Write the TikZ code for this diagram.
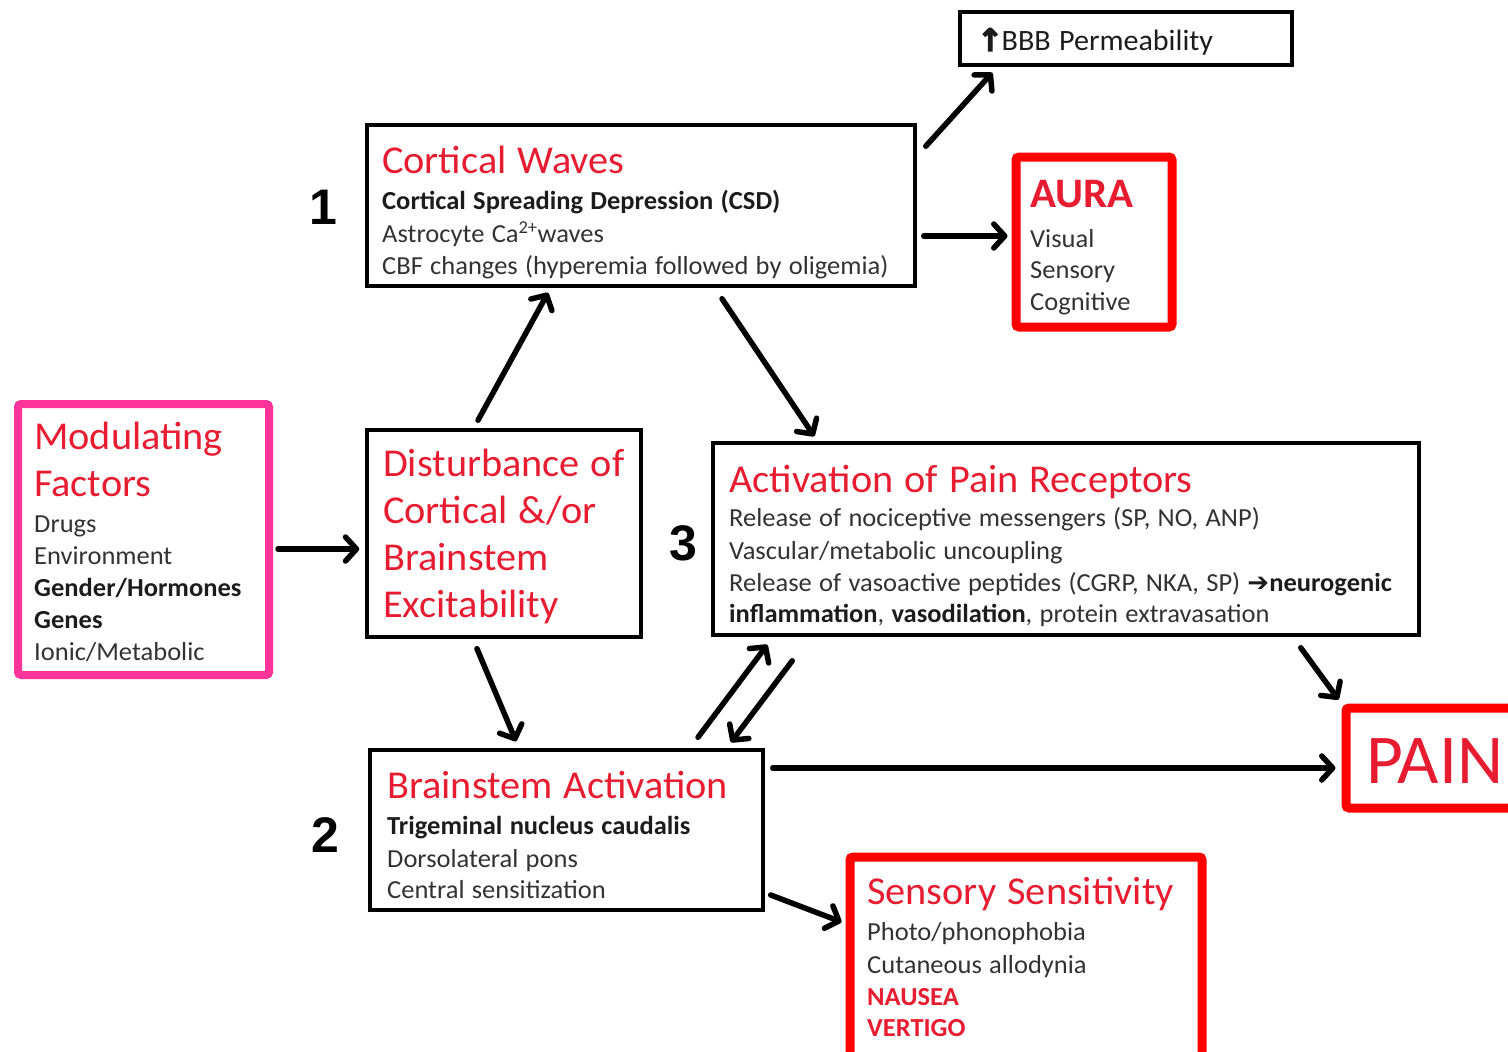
\documentclass[tikz,border=0pt]{standalone}
\usepackage{fontspec}
\setmainfont{Carlito}[FakeStretch=1.02]
\newfontfamily\numfont{Liberation Sans}
\newfontfamily\symfont{DejaVu Sans}
\newfontfamily\heavyarrow{DejaVu Sans Bold}[FakeBold=4]
\usetikzlibrary{arrows.meta}

\definecolor{titlered}{RGB}{232,28,48}
\definecolor{boxred}{RGB}{255,0,0}
\definecolor{boxpink}{RGB}{255,51,153}
\definecolor{bodygray}{RGB}{50,50,50}
\definecolor{darkgray}{RGB}{28,28,28}

% text styles for one line of a box
\newcommand\mkTitle{\fontsize{39.5}{47}\selectfont\color{titlered}}
\newcommand\mkBody{\fontsize{26}{32.5}\selectfont\color{bodygray}}
\newcommand\mkTight{\fontsize{26}{31.5}\selectfont\color{bodygray}}
\newcommand\mkBold{\fontsize{26}{32.5}\selectfont\bfseries\color{darkgray}}
\newcommand\mkSub{\fontsize{26}{36}\selectfont\color{bodygray}}
\newcommand\mkSubBold{\fontsize{26}{36}\selectfont\bfseries\color{darkgray}}
% one line of box text, with wider word spaces
\newcommand\tline[2]{{\noindent#1\spaceskip=0.28em plus 0.1em minus 0.05em\relax#2\par}}

\tikzset{
  blackbox/.style={draw=black, line width=3.5pt, inner sep=0pt},
  redbox/.style={draw=boxred, line width=9pt, rounded corners=3pt, inner sep=0pt},
  pinkbox/.style={draw=boxpink, line width=8pt, rounded corners=3pt, inner sep=0pt},
  boxtext/.style={anchor=north west, inner sep=0pt, align=left, text width=#1},
  boxtext/.default=720pt,
  numlabel/.style={font=\numfont\bfseries\fontsize{50}{50}\selectfont, inner sep=0pt},
  flow/.style={line width=5.5pt, line cap=round,
    -{Straight Barb[length=11pt,width=24pt,line cap=round,line join=round]}},
}

\begin{document}
\begin{tikzpicture}[x=1pt,y=-1pt]
\useasboundingbox (0,0) rectangle (1508,1052);

% boxes
\node[blackbox, minimum width=332pt, minimum height=53pt] (bbb) at (1126,38.5) {};
\node[blackbox, minimum width=548pt, minimum height=161pt] (cw) at (641,205.5) {};
\node[redbox, minimum width=156pt, minimum height=170pt] (aura) at (1094,242) {};
\node[pinkbox, minimum width=251pt, minimum height=271pt] (mod) at (143.5,539.5) {};
\node[blackbox, minimum width=274pt, minimum height=207pt] (dist) at (504,533.5) {};
\node[blackbox, minimum width=706pt, minimum height=192pt] (act) at (1066,539) {};
\node[blackbox, minimum width=393pt, minimum height=160pt] (bs) at (566.5,830) {};
\node[redbox, minimum width=196pt, minimum height=100pt] (pain) at (1444,758) {};
\node[redbox, minimum width=352pt, minimum height=222pt] (sens) at (1026,968) {};

% box texts
\node[boxtext=320pt] (bbb-txt) at (977,28) {%
  \tline{\fontsize{29.5}{34}\selectfont\color{darkgray}}{{\heavyarrow\fontsize{31}{34}\selectfont ↑}\kern-1.5pt BBB Permeability}};

\node[boxtext] (cw-txt) at (382,146) {%
  \tline\mkTitle{Cortical Waves}%
  \tline{\fontsize{26}{36}\selectfont\bfseries\color{darkgray}}{Cortical Spreading Depression (CSD)}%
  \tline\mkBody{Astrocyte Ca\textsuperscript{2+}waves}%
  \tline\mkBody{CBF changes (hyperemia followed by oligemia)}};

\node[boxtext=200pt] (aura-txt) at (1030,180) {%
  \tline{\fontsize{42}{47}\selectfont\bfseries\color{titlered}}{AURA}%
  \tline{\fontsize{26}{40}\selectfont\color{bodygray}}{Visual}%
  \tline\mkTight{Sensory}%
  \tline\mkTight{Cognitive}};

\node[boxtext=300pt] (mod-txt) at (34,422) {%
  \tline\mkTitle{Modulating}%
  \tline\mkTitle{Factors}%
  \tline\mkSub{Drugs}%
  \tline\mkTight{Environment}%
  \tline{\fontsize{26}{32.5}\selectfont\bfseries\color{darkgray}}{Gender/Hormones}%
  \tline{\fontsize{26}{32}\selectfont\bfseries\color{darkgray}}{Genes}%
  \tline\mkTight{Ionic/Metabolic}};

\node[boxtext=300pt] (dist-txt) at (383,449) {%
  \tline\mkTitle{Disturbance of}%
  \tline\mkTitle{Cortical \&/or}%
  \tline\mkTitle{Brainstem}%
  \tline\mkTitle{Excitability}};

\node[boxtext] (act-txt) at (729,465) {%
  \tline\mkTitle{Activation of Pain Receptors}%
  \tline{\fontsize{26}{34}\selectfont\color{bodygray}}{Release of nociceptive messengers (SP, NO, ANP)}%
  \tline{\fontsize{26}{32.5}\selectfont\color{bodygray}}{Vascular/metabolic uncoupling}%
  \tline{\fontsize{26}{32}\selectfont\color{bodygray}}{Release of vasoactive peptides (CGRP, NKA, SP) {\symfont\bfseries\color{darkgray}➔}{\bfseries\color{darkgray}neurogenic}}%
  \tline\mkTight{{\bfseries\color{darkgray}inflammation}, {\bfseries\color{darkgray}vasodilation}, protein extravasation}};

\node[boxtext] (bs-txt) at (387,771) {%
  \tline\mkTitle{Brainstem Activation}%
  \tline\mkSubBold{Trigeminal nucleus caudalis}%
  \tline\mkBody{Dorsolateral pons}%
  \tline\mkTight{Central sensitization}};

\node[boxtext=200pt] (pain-txt) at (1366,738) {%
  \tline{\fontsize{70}{70}\selectfont\color{titlered}}{PAIN}};

\node[boxtext=400pt] (sens-txt) at (867,877) {%
  \tline\mkTitle{Sensory Sensitivity}%
  \tline\mkSub{Photo/phonophobia}%
  \tline\mkBody{Cutaneous allodynia}%
  \tline{\fontsize{26}{32.5}\selectfont\bfseries\color{titlered}}{NAUSEA}%
  \tline{\fontsize{26}{31}\selectfont\bfseries\color{titlered}}{VERTIGO}};

% step numbers
\node[numlabel] (n1) at (323,207) {1};
\node[numlabel] (n2) at (325,835) {2};
\node[numlabel] (n3) at (683,543) {3};

% connectors
\draw[flow] ([xshift=9pt,yshift=-23pt]cw.north east) -- ([xshift=34pt,yshift=-6pt]bbb.south west);
\draw[flow] ([xshift=7pt,yshift=-30.5pt]cw.east) -- ([xshift=-4pt,yshift=6pt]aura.west);
\draw[flow] ([xshift=81pt,yshift=-11pt]cw.south) -- ([xshift=103pt,yshift=5pt]act.north west);
\draw[flow] ([xshift=-26pt,yshift=8pt]dist.north) -- ([xshift=-93pt,yshift=-5pt]cw.south);
\draw[flow] ([xshift=5pt,yshift=-9.5pt]mod.east) -- ([xshift=-6pt,yshift=-15.5pt]dist.west);
\draw[flow] ([xshift=-27pt,yshift=-10pt]dist.south) -- ([xshift=-50.5pt,yshift=7pt]bs.north);
\draw[flow] ([xshift=131.5pt,yshift=11pt]bs.north) -- ([xshift=56pt,yshift=-8pt]act.south west);
\draw[flow] ([xshift=81pt,yshift=-24pt]act.south west) -- ([xshift=164.5pt,yshift=6pt]bs.north);
\draw[flow] ([xshift=-120pt,yshift=-11pt]act.south east) -- ([xshift=-3pt,yshift=4pt]pain.north west);
\draw[flow] ([xshift=8pt,yshift=62pt]bs.east) -- ([xshift=-6pt,yshift=-10pt]pain.west);
\draw[flow] ([xshift=6pt,yshift=-65pt]bs.east) -- ([xshift=-4pt,yshift=46pt]sens.west);
\end{tikzpicture}
\end{document}
